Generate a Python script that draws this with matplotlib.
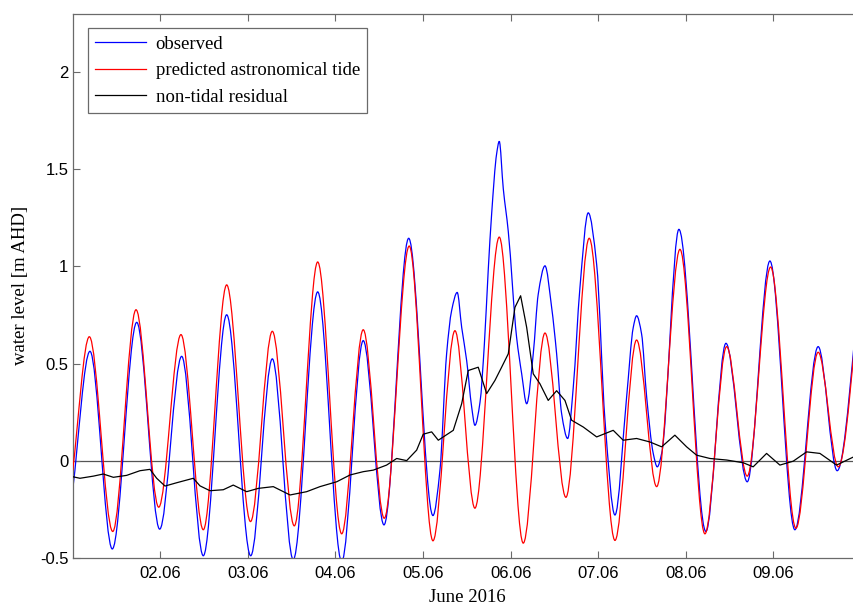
import numpy as np
import matplotlib
matplotlib.use("Agg")
import matplotlib.pyplot as plt
from matplotlib.path import Path
from matplotlib.patches import PathPatch
from matplotlib.lines import Line2D

# ---------------- data (day of June 2016, water level m AHD) ----------------
tide_t = [1.000, 1.190, 1.457, 1.723, 1.982, 2.236, 2.491, 2.758, 3.030, 3.279,
          3.530, 3.797, 4.071, 4.317, 4.557, 4.842, 5.113, 5.364, 5.592, 5.870,
          6.144, 6.392, 6.631, 6.897, 7.191, 7.438, 7.667, 7.933, 8.218, 8.466,
          8.701, 8.968, 9.257, 9.511, 9.740, 10.000]
tide_v = [-0.05, 0.638, -0.365, 0.777, -0.240, 0.649, -0.356, 0.905, -0.314, 0.666,
          -0.336, 1.023, -0.377, 0.674, -0.297, 1.105, -0.413, 0.669, -0.245, 1.151,
          -0.425, 0.657, -0.189, 1.145, -0.411, 0.621, -0.134, 1.088, -0.377, 0.587,
          -0.080, 0.997, -0.348, 0.558, -0.032, 0.92]

obs_t = [1.000, 1.197, 1.452, 1.731, 1.993, 2.244, 2.491, 2.758, 3.032, 3.279,
         3.518, 3.797, 4.071, 4.317, 4.554, 4.836, 5.113, 5.193, 5.269, 5.326,
         5.390, 5.441, 5.498, 5.555, 5.592, 5.650, 5.700, 5.744, 5.783, 5.840,
         5.870, 5.916, 5.973, 6.068, 6.126, 6.183, 6.258, 6.315, 6.392, 6.468,
         6.525, 6.582, 6.651, 6.715, 6.791, 6.886, 6.982, 7.077, 7.191, 7.324,
         7.400, 7.438, 7.495, 7.553, 7.628, 7.674, 7.724, 7.921, 8.229, 8.458,
         8.701, 8.960, 9.245, 9.511, 9.728, 10.000]
obs_v = [-0.15, 0.563, -0.455, 0.712, -0.353, 0.537, -0.49, 0.751, -0.49, 0.524,
         -0.51, 0.869, -0.52, 0.618, -0.331, 1.145, -0.283, -0.049, 0.55, 0.772,
         0.866, 0.686, 0.515, 0.276, 0.182, 0.30, 0.60, 0.98, 1.27, 1.58,
         1.644, 1.40, 1.18, 0.635, 0.447, 0.293, 0.55, 0.857, 1.003, 0.789,
         0.55, 0.242, 0.114, 0.378, 0.89, 1.276, 1.01, 0.208, -0.28, 0.327,
         0.686, 0.746, 0.652, 0.327, 0.037, -0.032, 0.037, 1.191, -0.365, 0.604,
         -0.109, 1.028, -0.356, 0.587, -0.052, 0.95]

res_t = [1.000, 1.083, 1.235, 1.349, 1.464, 1.616, 1.768, 1.882, 1.959, 2.054,
         2.187, 2.377, 2.453, 2.567, 2.719, 2.833, 2.986, 3.119, 3.290, 3.481,
         3.671, 3.823, 4.014, 4.166, 4.317, 4.432, 4.584, 4.699, 4.813, 4.927,
         5.002, 5.098, 5.174, 5.345, 5.441, 5.516, 5.630, 5.726, 5.821, 5.897,
         5.973, 6.049, 6.114, 6.183, 6.258, 6.334, 6.429, 6.525, 6.620, 6.696,
         6.829, 6.982, 7.171, 7.285, 7.438, 7.590, 7.724, 7.875, 8.009, 8.123,
         8.275, 8.466, 8.655, 8.769, 8.922, 9.074, 9.226, 9.379, 9.531, 9.721,
         9.920, 10.000]
res_v = [-0.083, -0.091, -0.080, -0.069, -0.086, -0.076, -0.052, -0.045, -0.091, -0.131,
         -0.114, -0.091, -0.130, -0.155, -0.150, -0.126, -0.160, -0.143, -0.134, -0.177,
         -0.160, -0.134, -0.109, -0.074, -0.057, -0.049, -0.023, 0.011, 0.000, 0.054,
         0.136, 0.148, 0.105, 0.156, 0.293, 0.464, 0.481, 0.345, 0.413, 0.481,
         0.550, 0.789, 0.849, 0.686, 0.447, 0.396, 0.310, 0.360, 0.310, 0.208,
         0.173, 0.122, 0.156, 0.105, 0.114, 0.096, 0.071, 0.131, 0.071, 0.028,
         0.011, 0.003, -0.011, -0.032, 0.037, -0.023, -0.003, 0.045, 0.037, -0.023,
         0.020, 0.020]

x_ticks = [2, 3, 4, 5, 6, 7, 8, 9]
x_tick_labels = ["02.06", "03.06", "04.06", "05.06", "06.06", "07.06", "08.06", "09.06"]
y_ticks = [-0.5, 0, 0.5, 1, 1.5, 2]
y_tick_labels = ["-0.5", "0", "0.5", "1", "1.5", "2"]
series_labels = ["observed", "predicted astronomical tide", "non-tidal residual"]


def smooth_path(x, y):
    """Bezier path through the read points (monotone cubic tangents)."""
    x = np.asarray(x, float)
    y = np.asarray(y, float)
    h = np.diff(x)
    d = np.diff(y) / h
    m = np.zeros_like(y)
    m[0], m[-1] = d[0], d[-1]
    for k in range(1, len(x) - 1):
        if d[k - 1] * d[k] > 0:
            w1 = 2 * h[k] + h[k - 1]
            w2 = h[k] + 2 * h[k - 1]
            m[k] = (w1 + w2) / (w1 / d[k - 1] + w2 / d[k])
    verts = [(x[0], y[0])]
    codes = [Path.MOVETO]
    for k in range(len(x) - 1):
        verts += [(x[k] + h[k] / 3, y[k] + m[k] * h[k] / 3),
                  (x[k + 1] - h[k] / 3, y[k + 1] - m[k + 1] * h[k] / 3),
                  (x[k + 1], y[k + 1])]
        codes += [Path.CURVE4] * 3
    return Path(verts, codes)


SPINE = "#6a6a6a"
SERIF = ["Liberation Serif", "DejaVu Serif"]
SANS = ["Liberation Sans", "DejaVu Sans"]

fig = plt.figure(figsize=(8.54, 6.05), dpi=100)
ax = fig.add_axes([72.7 / 854, (605 - 557.7) / 605, (861 - 72.7) / 854, (557.7 - 14) / 605])

ax.axhline(0, color="#555555", lw=0.9, zorder=1)
ax.add_patch(PathPatch(smooth_path(obs_t, obs_v), fill=False, edgecolor="#0000ff", lw=0.9, zorder=2))
ax.add_patch(PathPatch(smooth_path(tide_t, tide_v), fill=False, edgecolor="#ff0000", lw=0.9, zorder=3))
ax.plot(res_t, res_v, color="black", lw=0.9, zorder=4)

ax.set_xlim(1, 10)
ax.set_ylim(-0.5, 2.3)
ax.set_xticks(x_ticks)
ax.set_xticklabels(x_tick_labels, fontfamily=SANS, fontsize=12)
ax.set_yticks(y_ticks)
ax.set_yticklabels(y_tick_labels, fontfamily=SANS, fontsize=12)
ax.tick_params(direction="in", length=5, width=0.8, color=SPINE, top=True, right=True)
ax.tick_params(axis="x", pad=6.0)
ax.tick_params(axis="y", pad=3.2)
for s in ax.spines.values():
    s.set_color(SPINE)
    s.set_linewidth(0.9)

ax.set_xlabel("June 2016", fontfamily=SERIF, fontsize=13.5)
ax.xaxis.set_label_coords(0.5, -0.058)
ax.set_ylabel("water level [m AHD]", fontfamily=SERIF, fontsize=13.5)
ax.yaxis.set_label_coords(-0.055, 0.5)

handles = [Line2D([], [], color="#0000ff", lw=0.9),
           Line2D([], [], color="#ff0000", lw=0.9),
           Line2D([], [], color="black", lw=0.9)]
leg = ax.legend(handles, series_labels, loc="upper left",
                bbox_to_anchor=((87.7 - 72.7) / 788.3, (557.7 - 28) / 543.7),
                borderaxespad=0, frameon=True, fancybox=False, framealpha=1,
                prop={"family": SERIF, "size": 13.5}, handlelength=2.72,
                handletextpad=0.5, labelspacing=0.5, borderpad=0.4)
leg.get_frame().set_edgecolor(SPINE)
leg.get_frame().set_linewidth(0.9)

fig.savefig("out.png", dpi=100)
